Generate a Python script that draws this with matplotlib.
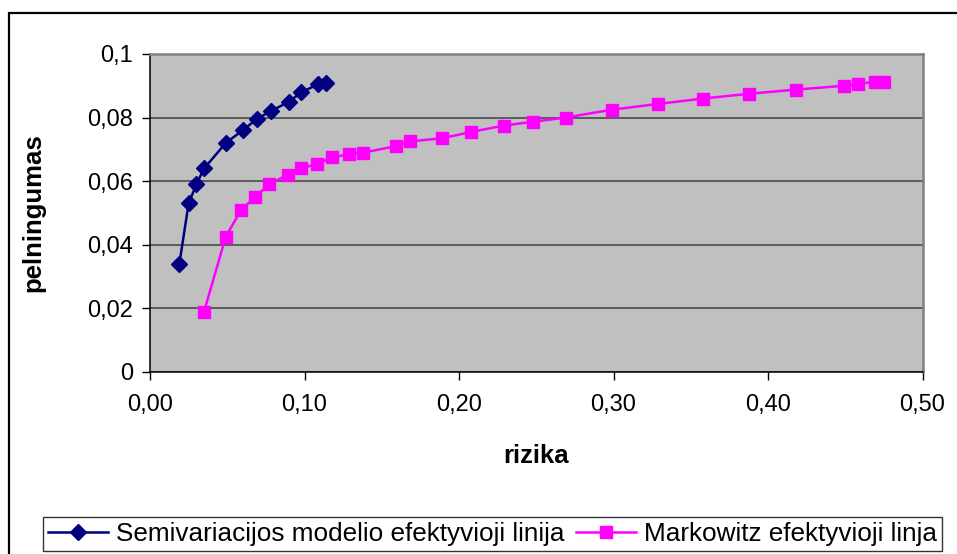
import matplotlib
matplotlib.use("Agg")
import matplotlib.pyplot as plt
from matplotlib.patches import Rectangle

plt.rcParams['font.family'] = ['Liberation Sans', 'DejaVu Sans']

# Data
semi_risk = [0.019, 0.025, 0.030, 0.035, 0.049, 0.060, 0.069, 0.078, 0.090, 0.098, 0.109, 0.114]
semi_ret = [0.034, 0.053, 0.059, 0.064, 0.072, 0.076, 0.0795, 0.082, 0.085, 0.088, 0.0905, 0.091]

mark_risk = [0.035, 0.049, 0.059, 0.068, 0.077, 0.089, 0.098, 0.108, 0.118, 0.129, 0.138,
             0.159, 0.168, 0.189, 0.208, 0.229, 0.248, 0.269, 0.299, 0.329, 0.358, 0.388,
             0.418, 0.449, 0.458, 0.469, 0.475]
mark_ret = [0.019, 0.0425, 0.051, 0.055, 0.059, 0.062, 0.064, 0.0655, 0.0675, 0.0685, 0.069,
            0.071, 0.0725, 0.0735, 0.0755, 0.0775, 0.0787, 0.080, 0.0825, 0.0843, 0.086, 0.0875,
            0.0888, 0.090, 0.0906, 0.0913, 0.0913]

x_ticks = [0.0, 0.1, 0.2, 0.3, 0.4, 0.5]
x_labels = ["0,00", "0,10", "0,20", "0,30", "0,40", "0,50"]
y_ticks = [0.0, 0.02, 0.04, 0.06, 0.08, 0.1]
y_labels = ["0", "0,02", "0,04", "0,06", "0,08", "0,1"]

series1_name = "Semivariacijos modelio efektyvioji linija"
series2_name = "Markowitz efektyvioji linja"

W, H = 957, 554
fig = plt.figure(figsize=(W / 100, H / 100), dpi=100)
fig.patch.set_facecolor('white')

# outer chart border
fig.patches.append(Rectangle((8.5 / W, -0.2), 1.2, 1.2 - 12.5 / H, transform=fig.transFigure,
                             fill=False, edgecolor='black', linewidth=1.6, zorder=0))

left, right, top, bottom = 150, 922.5, 54, 372
ax = fig.add_axes([left / W, (H - bottom) / H, (right - left) / W, (bottom - top) / H])
ax.set_facecolor('#C0C0C0')

ax.plot(semi_risk, semi_ret, color='#000080', linewidth=1.8, marker='D', markersize=8.5,
        markerfacecolor='#000080', markeredgecolor='#000080', label=series1_name, zorder=3)
ax.plot(mark_risk, mark_ret, color='#FF00FF', linewidth=1.8, marker='s', markersize=9,
        markerfacecolor='#FF00FF', markeredgecolor='#FF00FF', label=series2_name, zorder=3)

ax.set_xlim(0, 0.5)
ax.set_ylim(0, 0.1)
ax.set_xticks(x_ticks)
ax.set_xticklabels(x_labels)
ax.set_yticks(y_ticks)
ax.set_yticklabels(y_labels)
ax.tick_params(axis='both', direction='out', length=6, width=1, color='black',
               labelsize=17, pad=6)
ax.tick_params(axis='x', pad=10)
ax.grid(axis='y', color='#404040', linewidth=1.1)
ax.set_axisbelow(True)

for s in ['top', 'right']:
    ax.spines[s].set_color('#808080')
    ax.spines[s].set_linewidth(1.8)
for s in ['left', 'bottom']:
    ax.spines[s].set_color('black')
    ax.spines[s].set_linewidth(1.1)

ax.set_xlabel('rizika', fontsize=18.5, fontweight='bold', labelpad=20)
ax.set_ylabel('pelningumas', fontsize=18.5, fontweight='bold', labelpad=30)

leg = fig.legend(loc='lower left', bbox_to_anchor=(43 / W, (H - 551) / H), ncol=2,
                 fontsize=18.8, frameon=True, fancybox=False, edgecolor='black',
                 handlelength=2.3, handletextpad=0.3, columnspacing=0.45,
                 borderpad=0.2, borderaxespad=0)
leg.get_frame().set_linewidth(1.0)

fig.savefig('out.png', dpi=100)
